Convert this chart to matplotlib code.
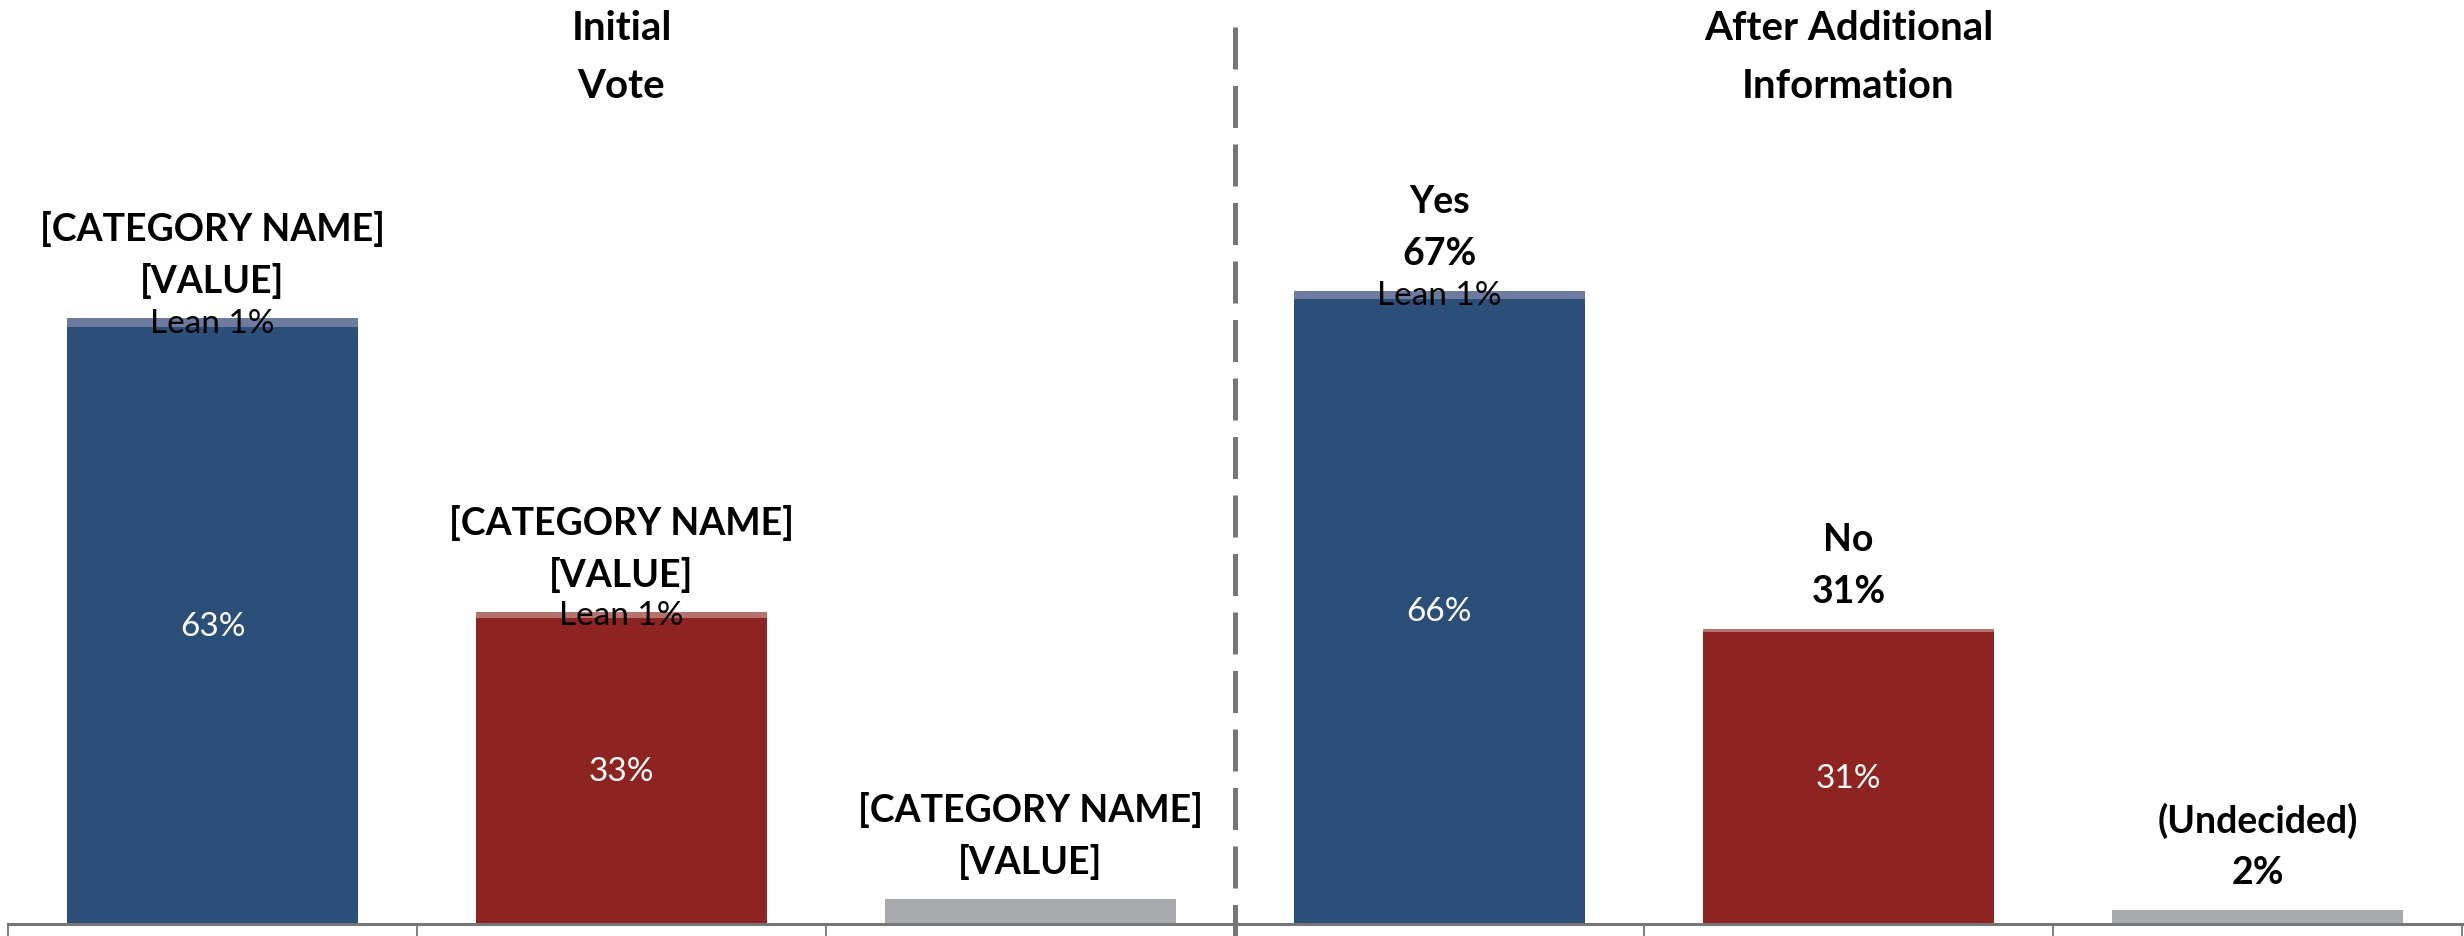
import matplotlib
matplotlib.use("Agg")
import matplotlib.pyplot as plt

plt.rcParams["font.family"] = ["Lato", "DejaVu Sans"]

GROUPS = [["Initial", "Vote"], ["After Additional", "Information"]]
GROUP_POS = [1, 4]
NAMES = ["[CATEGORY NAME]", "[CATEGORY NAME]", "[CATEGORY NAME]", "Yes", "No", "(Undecided)"]
TOTAL_LABELS = ["[VALUE]", "[VALUE]", "[VALUE]", "67%", "31%", "2%"]
FIRM = [63.0, 32.3, 2.6, 66.0, 30.8, 1.5]
LEAN = [1.0, 0.6, 0.0, 0.8, 0.4, 0.0]
FIRM_LABELS = ["63%", "33%", "", "66%", "31%", ""]
LEAN_LABELS = ["Lean 1%", "Lean 1%", "", "Lean 1%", "", ""]

BLUE, RED, GRAY = "#2B4F79", "#8E2421", "#A9AAAD"
LIGHT_BLUE, LIGHT_RED = "#6E7BA0", "#B5726E"
FIRM_COLORS = [BLUE, RED, GRAY, BLUE, RED, GRAY]
LEAN_COLORS = [LIGHT_BLUE, LIGHT_RED, GRAY, LIGHT_BLUE, LIGHT_RED, GRAY]
AXIS_GRAY = "#767676"

W, H = 2464, 937
fig = plt.figure(figsize=(W / 100, H / 100), dpi=100)
ax = fig.add_axes([8 / W, 12 / H, 2454 / W, 925 / H])

x = list(range(len(FIRM)))
ax.bar(x, FIRM, width=0.71, color=FIRM_COLORS, linewidth=0)
ax.bar(x, LEAN, bottom=FIRM, width=0.71, color=LEAN_COLORS, linewidth=0)

ax.set_xlim(-0.5, 5.5)
ax.set_ylim(0, 925 / 9.47)

for s in ["left", "top", "right"]:
    ax.spines[s].set_visible(False)
ax.spines["bottom"].set_color(AXIS_GRAY)
ax.spines["bottom"].set_linewidth(2.2)
ax.set_yticks([])
ax.set_xticks([i - 0.5 for i in range(len(FIRM) + 1)])
ax.set_xticklabels([])
ax.tick_params(axis="x", direction="out", length=8.6, width=1.3, color=AXIS_GRAY)

# separator between the two groups
ax.plot([2.5, 2.5], [(925 - 28) / 925, -12 / 925], transform=ax.get_xaxis_transform(),
        color=AXIS_GRAY, lw=3.6, dashes=(8.4, 3.3), solid_capstyle="butt",
        dash_capstyle="butt", clip_on=False)

for i in x:
    top = FIRM[i] + LEAN[i]
    if FIRM_LABELS[i]:
        ax.text(i, FIRM[i] / 2, FIRM_LABELS[i], ha="center", va="center",
                color="white", fontsize=24)
    if LEAN_LABELS[i]:
        ax.text(i, FIRM[i] + LEAN[i] / 2, LEAN_LABELS[i], ha="center", va="center",
                color="black", fontsize=24)
    ax.annotate(TOTAL_LABELS[i], (i, top), xytext=(0, 38), textcoords="offset pixels",
                ha="center", va="center", fontsize=27, fontweight="bold")
    ax.annotate(NAMES[i], (i, top), xytext=(0, 90), textcoords="offset pixels",
                ha="center", va="center", fontsize=27, fontweight="bold")

for lines, pos in zip(GROUPS, GROUP_POS):
    for k, line in enumerate(lines):
        ax.text(pos, 1 - (29 + 58 * k) / 925, line, transform=ax.get_xaxis_transform(),
                ha="center", va="center", fontsize=29, fontweight="bold")

fig.savefig("out.png", dpi=100)
